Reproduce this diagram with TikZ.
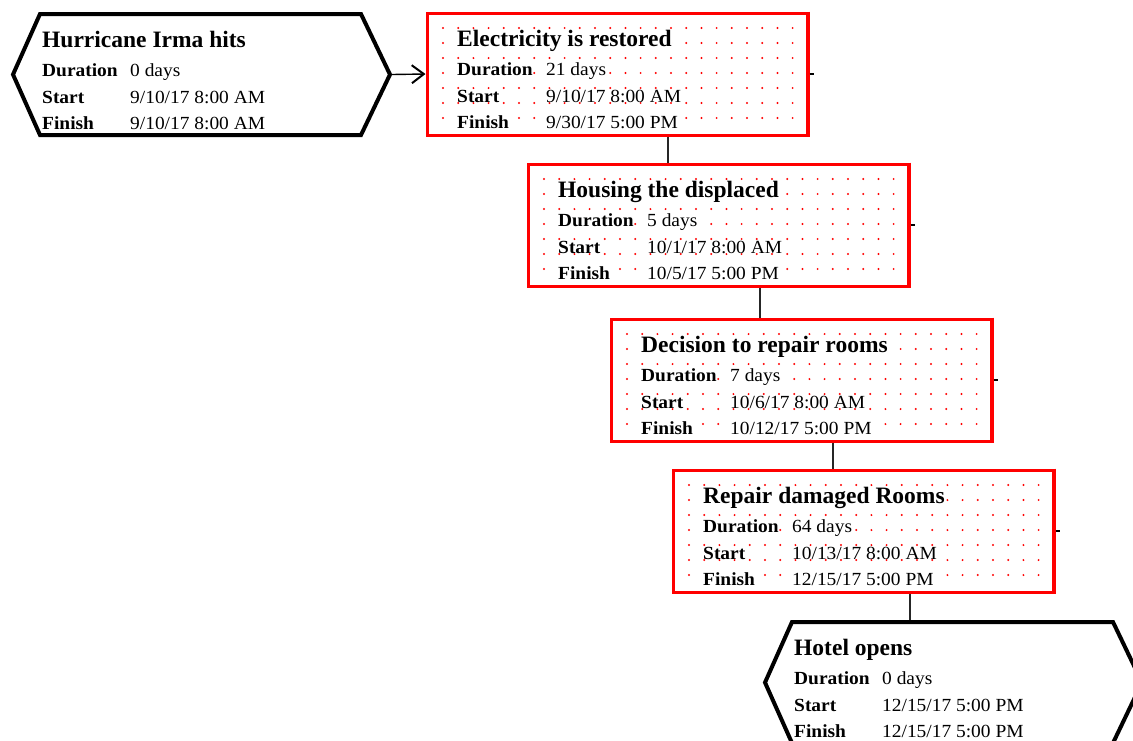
\documentclass[tikz,border=0pt]{standalone}
\usepackage{fontspec}
\setmainfont{Liberation Serif}
\newfontfamily\rowfont[FakeStretch=1.05]{Liberation Serif}
\usetikzlibrary{arrows.meta,calc}

\tikzset{
  x=1pt, y=-1pt,
  taskarea/.style={draw=none, minimum width=380pt, minimum height=122pt, inner sep=0pt, outer sep=0pt, anchor=north west},
  hexarea/.style={draw=none, minimum width=377pt, minimum height=121pt, inner sep=0pt, outer sep=0pt, anchor=north west},
  taskframe/.style={draw=red, line width=3pt},
  hexframe/.style={draw=black, line width=4pt, line join=miter},
  gridmark/.style={fill=red},
  tasktitle/.style={anchor=base west, inner sep=0pt, fill=white, font=\bfseries\fontsize{23.5}{28}\selectfont},
  rowlabel/.style={anchor=base west, inner sep=0pt, fill=white, font=\rowfont\bfseries\fontsize{18.5}{22}\selectfont},
  rowvalue/.style={anchor=base west, inner sep=0pt, fill=white, font=\rowfont\fontsize{18.5}{22}\selectfont},
  link/.style={draw=black!85, line width=1.5pt},
  flow/.style={draw=black, line width=1.4pt, -{Straight Barb[length=12pt,width=18pt,line width=2pt]}},
  stub/.style={draw=black, line width=1.2pt}
}

% the four rows of a task card
\newcommand\cardrows[5]{%
  \node[tasktitle] at ($(#1.north west)+(#5,33)$) {#2};
  \node[rowlabel] at ($(#1.north west)+(#5,62)$) {Duration};
  \node[rowlabel] at ($(#1.north west)+(#5,89)$) {Start};
  \node[rowlabel] at ($(#1.north west)+(#5,115)$) {Finish};
}
\newcommand\cardvalues[5]{%
  \node[rowvalue] at ($(#1.north west)+(#5,62)$) {#2};
  \node[rowvalue] at ($(#1.north west)+(#5,89)$) {#3};
  \node[rowvalue] at ($(#1.north west)+(#5,115)$) {#4};
}

% dotted red task box
\newcommand\taskcard[7]{%
  \node[taskarea] (#1) at (#2,#3) {};
  \foreach \i in {0,...,23}{
    \foreach \j in {0,...,6}{
      \fill[gridmark] ($(#1.north west)+(16+15.2*\i,15+15*\j)$) circle (1.1pt);
    }
  }
  \draw[taskframe] (#1.north west) rectangle (#1.south east);
  \draw[draw=red, line width=2pt] ($(#1.north east)+(1.5,-1.5)$) -- ($(#1.south east)+(1.5,1.5)$);
  \draw[stub] ($(#1.east)+(2.5,0)$) -- ++(4,0);
  \cardrows{#1}{#4}{}{}{30}
  \cardvalues{#1}{#5}{#6}{#7}{119}
}

% hexagonal milestone
\newcommand\milestone[7]{%
  \node[hexarea] (#1) at (#2,#3) {};
  \draw[hexframe] (#1.west) -- ($(#1.north west)+(27,0)$) -- ($(#1.north east)+(-29,0)$)
    -- (#1.east) -- ($(#1.south east)+(-29,0)$) -- ($(#1.south west)+(27,0)$) -- cycle;
  \cardrows{#1}{#4}{}{}{29}
  \cardvalues{#1}{#5}{#6}{#7}{117}
}

\begin{document}
\begin{tikzpicture}
  \fill[white] (0,0) rectangle (1133,740);
  \useasboundingbox (0,0) rectangle (1133,740);

  \milestone{h1}{13}{14}{Hurricane Irma hits}{0 days}{9/10/17 8:00 AM}{9/10/17 8:00 AM}
  \taskcard{b1}{427}{13}{Electricity is restored}{21 days}{9/10/17 8:00 AM}{9/30/17 5:00 PM}
  \taskcard{b2}{528}{164}{Housing the displaced}{5 days}{10/1/17 8:00 AM}{10/5/17 5:00 PM}
  \taskcard{b3}{611}{319}{Decision to repair rooms}{7 days}{10/6/17 8:00 AM}{10/12/17 5:00 PM}
  \taskcard{b4}{673}{470}{Repair damaged Rooms}{64 days}{10/13/17 8:00 AM}{12/15/17 5:00 PM}
  \milestone{h2}{765}{622}{Hotel opens}{0 days}{12/15/17 5:00 PM}{12/15/17 5:00 PM}

  % drop lines between successive cards
  \coordinate (c1) at (668,0);
  \coordinate (c2) at (760,0);
  \coordinate (c3) at (833,0);
  \coordinate (c4) at (910,0);
  \draw[link] ($(b1.south -| c1)+(0,1.5)$) -- ($(b2.north -| c1)+(0,-1.5)$);
  \draw[link] ($(b2.south -| c2)+(0,1.5)$) -- ($(b3.north -| c2)+(0,-1.5)$);
  \draw[link] ($(b3.south -| c3)+(0,1.5)$) -- ($(b4.north -| c3)+(0,-1.5)$);
  \draw[link] ($(b4.south -| c4)+(0,1.5)$) -- ($(h2.north -| c4)+(0,-2)$);

  \draw[flow] ($(h1.east)+(2,0)$) -- ($(b1.west)+(-1.5,0)$);
\end{tikzpicture}
\end{document}
